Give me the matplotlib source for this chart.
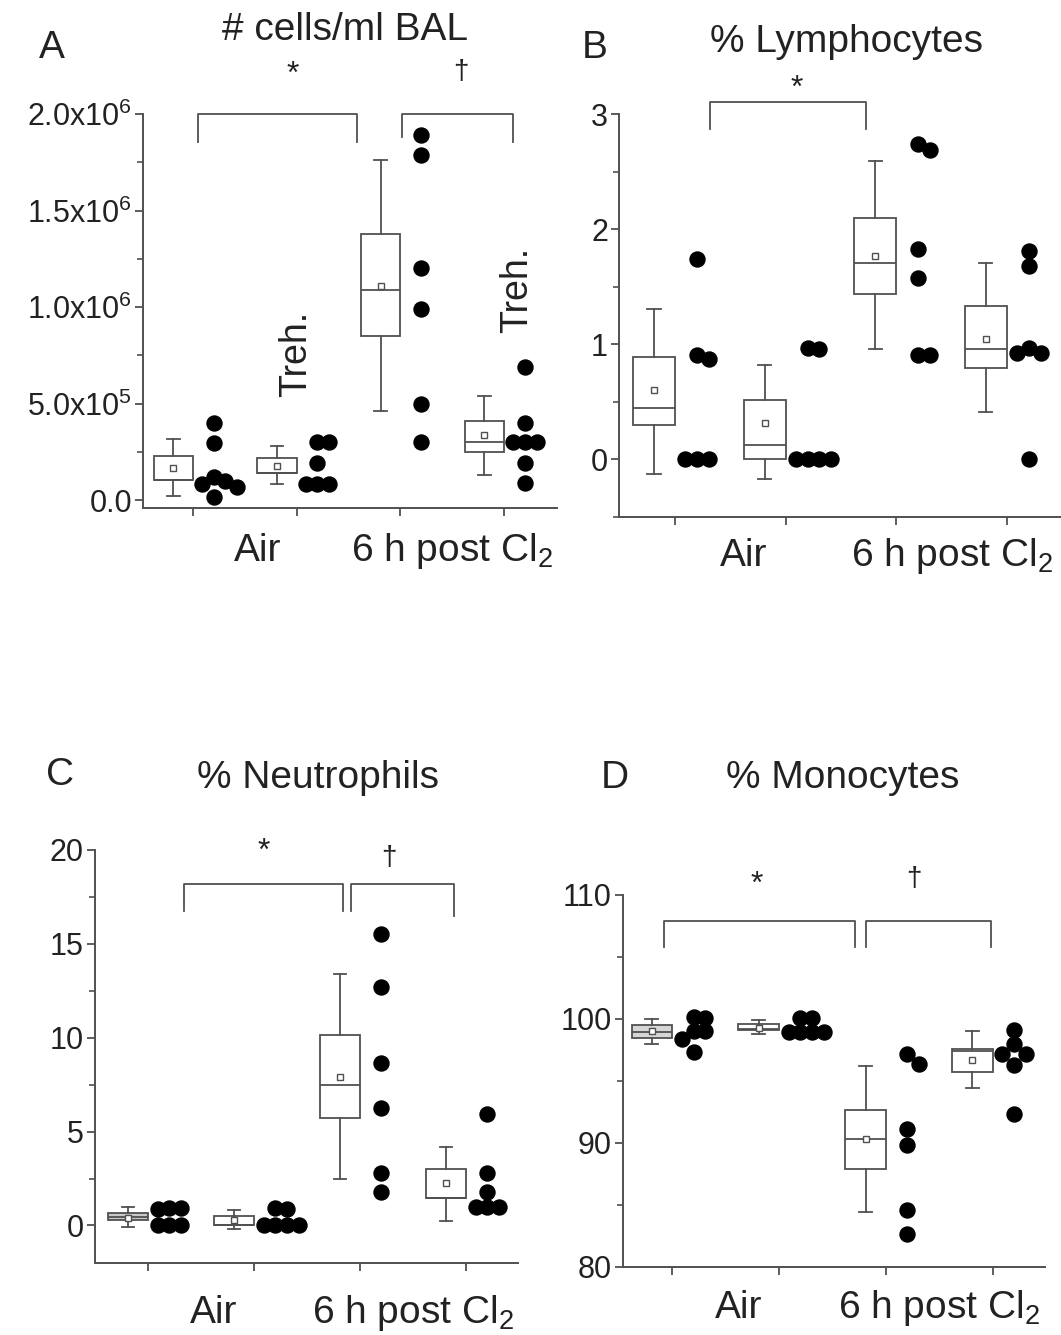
import matplotlib
matplotlib.use("Agg")
import matplotlib.pyplot as plt
import matplotlib.transforms as mtransforms
from matplotlib.ticker import FixedLocator, MultipleLocator
import numpy as np

plt.rcParams['font.family'] = ['Liberation Sans', 'DejaVu Sans']
plt.rcParams['mathtext.fontset'] = 'custom'
plt.rcParams['mathtext.rm'] = 'Liberation Sans'
plt.rcParams['mathtext.it'] = 'Liberation Sans:italic'
plt.rcParams['mathtext.default'] = 'regular'

INK = '#222222'
LINE = '#505050'

# group order: Air, Air + Treh., 6 h post Cl2, 6 h post Cl2 + Treh.
groups = [1, 2, 3, 4]

# A: cells/ml BAL
a_q1 = [0.104e6, 0.142e6, 0.85e6, 0.25e6]
a_med = [0.105e6, 0.142e6, 1.09e6, 0.30e6]
a_q3 = [0.227e6, 0.217e6, 1.38e6, 0.41e6]
a_lo = [0.02e6, 0.085e6, 0.46e6, 0.13e6]
a_hi = [0.315e6, 0.28e6, 1.76e6, 0.54e6]
a_mean = [0.164e6, 0.177e6, 1.11e6, 0.335e6]
a_dots = [[0.40e6, 0.295e6, 0.12e6, 0.10e6, 0.085e6, 0.07e6, 0.015e6],
          [0.30e6, 0.30e6, 0.19e6, 0.085e6, 0.085e6, 0.085e6],
          [1.89e6, 1.79e6, 1.20e6, 0.99e6, 0.50e6, 0.30e6],
          [0.69e6, 0.40e6, 0.30e6, 0.30e6, 0.30e6, 0.19e6, 0.09e6]]
a_ticks = [0, 0.5e6, 1.0e6, 1.5e6, 2.0e6]
a_ticklabels = ['0.0', '5.0x10$^5$', '1.0x10$^6$', '1.5x10$^6$', '2.0x10$^6$']

# B: % lymphocytes
b_q1 = [0.30, 0.0, 1.44, 0.79]
b_med = [0.45, 0.125, 1.71, 0.96]
b_q3 = [0.89, 0.52, 2.10, 1.33]
b_lo = [-0.125, -0.17, 0.96, 0.41]
b_hi = [1.31, 0.82, 2.59, 1.71]
b_mean = [0.60, 0.32, 1.77, 1.05]
b_dots = [[1.74, 0.91, 0.87, 0, 0, 0],
          [0.97, 0.96, 0, 0, 0, 0],
          [2.74, 2.69, 1.83, 1.58, 0.91, 0.91],
          [1.81, 1.68, 0.97, 0.92, 0.92, 0]]

# C: % neutrophils
c_q1 = [0.27, 0.0, 5.72, 1.44]
c_med = [0.45, 0.05, 7.46, 1.44]
c_q3 = [0.69, 0.5, 10.17, 3.0]
c_lo = [-0.1, -0.17, 2.45, 0.24]
c_hi = [1.0, 0.81, 13.4, 4.17]
c_mean = [0.42, 0.27, 7.92, 2.25]
c_dots = [[0.95, 0.95, 0.9, 0, 0, 0],
          [0.95, 0.9, 0, 0, 0, 0],
          [15.5, 12.7, 8.67, 6.26, 2.77, 1.8],
          [5.92, 2.77, 1.8, 0.96, 0.96, 0.96]]

# D: % monocytes
d_q1 = [98.5, 99.11, 87.9, 95.7]
d_med = [98.95, 99.2, 90.3, 97.4]
d_q3 = [99.5, 99.63, 92.7, 97.6]
d_lo = [98.0, 98.8, 84.4, 94.4]
d_hi = [100.0, 99.88, 96.2, 99.0]
d_mean = [99.0, 99.3, 90.3, 96.7]
d_dots = [[100.15, 100.1, 99.0, 99.0, 98.4, 97.3],
          [100.1, 100.1, 98.95, 98.95, 98.95, 98.95],
          [97.2, 96.4, 91.1, 89.8, 84.6, 82.7],
          [99.1, 98.0, 97.2, 97.2, 96.3, 92.3]]

W, H = 1061, 1335
fig = plt.figure(figsize=(W / 100, H / 100), dpi=100)


def px_axes(left, right, top, bottom):
    return fig.add_axes([left / W, 1 - bottom / H, (right - left) / W, (bottom - top) / H])


def swarm_x(ax, base, values, diam=15):
    # push a dot sideways while it would sit on top of one already placed
    pos = ax.get_position()
    x0, x1 = ax.get_xlim()
    y0, y1 = ax.get_ylim()
    sx = pos.width * W / (x1 - x0)
    sy = pos.height * H / (y1 - y0)
    step = 0.78 * diam / sx
    placed = []
    for v in values:
        for k in [0, 1, -1, 2, -2, 3, -3, 4]:
            x = base + k * step
            if all(np.hypot((x - px) * sx, (v - py) * sy) > 0.7 * diam for px, py in placed):
                break
        placed.append((x, v))
    return [p[0] for p in placed]


def draw_panel(ax, q1, med, q3, lo, hi, mean, dots, xlim, ylim, ticks, minor,
               ticklabels=None, faces=None, label_off=30):
    ax.set_xlim(*xlim)
    ax.set_ylim(*ylim)
    faces = faces or ['white'] * 4
    stats = []
    for i in range(4):
        stats.append(dict(q1=q1[i], med=med[i], q3=q3[i], whislo=lo[i],
                          whishi=hi[i], mean=mean[i], fliers=[]))
    bp = ax.bxp(stats, positions=[g - 0.19 for g in groups], widths=0.38,
                showmeans=True, patch_artist=True, capwidths=0.12, manage_ticks=False,
                boxprops=dict(edgecolor=LINE, linewidth=1.3),
                medianprops=dict(color=LINE, linewidth=1.3),
                whiskerprops=dict(color=LINE, linewidth=1.3),
                capprops=dict(color=LINE, linewidth=1.3),
                meanprops=dict(marker='s', markersize=4, markerfacecolor='white',
                               markeredgecolor=LINE, markeredgewidth=1))
    for patch, fc in zip(bp['boxes'], faces):
        patch.set_facecolor(fc)
    for g, vals in zip(groups, dots):
        xs = swarm_x(ax, g + 0.2, vals)
        ax.plot(xs, vals, 'o', ms=10.8, color='black', zorder=4, clip_on=False)

    for s in ['top', 'right']:
        ax.spines[s].set_visible(False)
    for s in ['left', 'bottom']:
        ax.spines[s].set_color(LINE)
        ax.spines[s].set_linewidth(1.4)
    ax.xaxis.set_major_locator(FixedLocator(groups))
    ax.set_xticklabels([])
    ax.yaxis.set_major_locator(FixedLocator(ticks))
    ax.yaxis.set_minor_locator(MultipleLocator(minor))
    if ticklabels is not None:
        ax.set_yticklabels(ticklabels)
    ax.tick_params(axis='both', which='major', length=6, width=1.3, color=LINE,
                   labelsize=22, labelcolor=INK, pad=2)
    ax.tick_params(axis='y', which='minor', length=4, width=1.2, color=LINE)

    trans = mtransforms.blended_transform_factory(ax.transData, ax.transAxes)
    ax.annotate('Air', (1.62, 0), xycoords=trans, xytext=(0, -label_off),
                textcoords='offset points', ha='center', va='center', fontsize=28, color=INK)
    ax.annotate('6 h post Cl$_2$', (3.5, 0), xycoords=trans, xytext=(0, -label_off),
                textcoords='offset points', ha='center', va='center', fontsize=28, color=INK)


def bracket(ax, x0, x1, ytop, yl, yr):
    ax.plot([x0, x0, x1, x1], [yl, ytop, ytop, yr], color=LINE, lw=1.3, clip_on=False)


# panel A
axA = px_axes(143, 557, 114, 508)
draw_panel(axA, a_q1, a_med, a_q3, a_lo, a_hi, a_mean, a_dots, (0.518, 4.51),
           (-0.041e6, 2.0e6), a_ticks, 0.25e6, a_ticklabels, label_off=31)
bracket(axA, 1.05, 2.58, 2.0e6, 1.855e6, 1.855e6)
bracket(axA, 3.02, 4.09, 2.0e6, 1.88e6, 1.855e6)
axA.text(1.96, 2.2e6, '*', ha='center', va='center', fontsize=23, color=INK, clip_on=False)
axA.text(3.58, 2.22e6, '†', ha='center', va='center', fontsize=20, color=INK, clip_on=False)
axA.text(1.99, 0.755e6, 'Treh.', rotation=90, ha='center', va='center', fontsize=27, color=INK)
axA.text(4.13, 1.09e6, 'Treh.', rotation=90, ha='center', va='center', fontsize=27, color=INK)

# panel B
axB = px_axes(619, 1061, 114, 517)
draw_panel(axB, b_q1, b_med, b_q3, b_lo, b_hi, b_mean, b_dots, (0.494, 4.49),
           (-0.5, 3.0), [0, 1, 2, 3], 0.5, label_off=28)
bracket(axB, 1.32, 2.73, 3.10, 2.87, 2.87)
axB.text(2.1, 3.22, '*', ha='center', va='center', fontsize=23, color=INK, clip_on=False)

# panel C
axC = px_axes(95, 518, 850, 1263)
draw_panel(axC, c_q1, c_med, c_q3, c_lo, c_hi, c_mean, c_dots, (0.5, 4.49),
           (-2, 20), [0, 5, 10, 15, 20], 2.5, faces=['#c8c8c8', 'white', 'white', 'white'],
           label_off=36)
bracket(axC, 1.34, 2.84, 18.2, 16.75, 16.75)
bracket(axC, 2.915, 3.89, 18.2, 16.75, 16.5)
axC.text(2.09, 19.9, '*', ha='center', va='center', fontsize=23, color=INK, clip_on=False)
axC.text(3.27, 19.6, '†', ha='center', va='center', fontsize=20, color=INK, clip_on=False)

# panel D
axD = px_axes(623, 1045, 895, 1267)
draw_panel(axD, d_q1, d_med, d_q3, d_lo, d_hi, d_mean, d_dots, (0.54, 4.49),
           (80, 110), [80, 90, 100, 110], 5, faces=['#d6d6d6', 'white', 'white', 'white'],
           label_off=29.5)
bracket(axD, 0.925, 2.71, 107.9, 105.8, 105.8)
bracket(axD, 2.81, 3.98, 107.9, 105.8, 105.8)
axD.text(1.79, 110.8, '*', ha='center', va='center', fontsize=23, color=INK, clip_on=False)
axD.text(3.26, 111.3, '†', ha='center', va='center', fontsize=20, color=INK, clip_on=False)

# panel letters and titles
for letter, lx, ly, title, tx, ty in [('A', 52, 48, '# cells/ml BAL', 345, 30),
                                      ('B', 595, 48, '% Lymphocytes', 847, 42),
                                      ('C', 60, 775, '% Neutrophils', 318, 778),
                                      ('D', 615, 778, '% Monocytes', 843, 778)]:
    fig.text(lx / W, 1 - ly / H, letter, ha='center', va='center', fontsize=28, color=INK)
    fig.text(tx / W, 1 - ty / H, title, ha='center', va='center', fontsize=28, color=INK)

fig.savefig('out.png', dpi=100, facecolor='white')
